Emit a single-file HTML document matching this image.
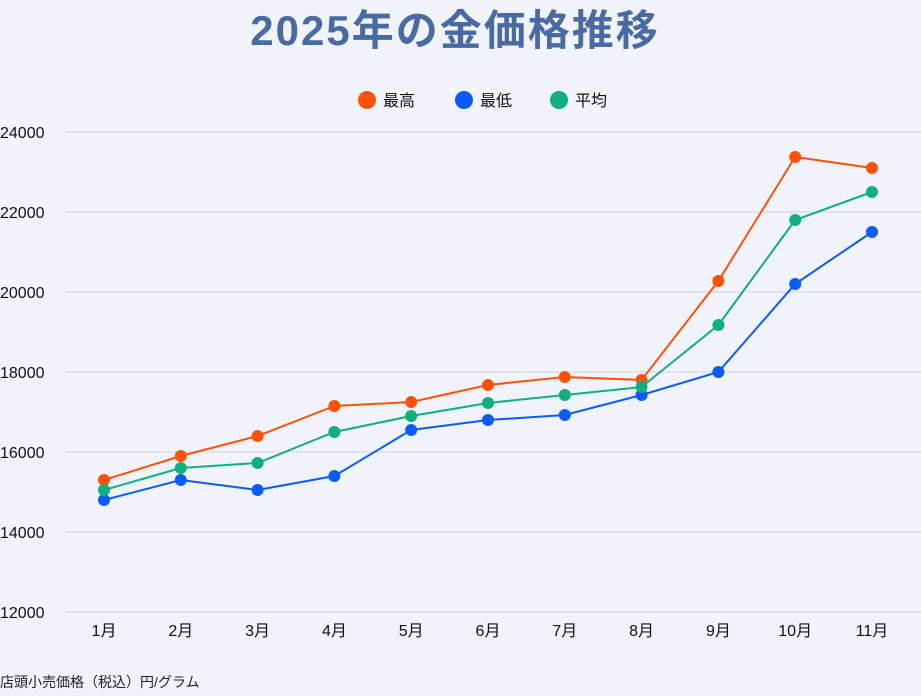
<!DOCTYPE html>
<html><head><meta charset="utf-8">
<style>
html,body{margin:0;padding:0;background:#f0f4fa;}
body{width:921px;height:691px;overflow:hidden;font-family:"Liberation Sans","Noto Sans CJK JP",sans-serif;}
svg text{font-family:"Liberation Sans","Noto Sans CJK JP",sans-serif;}
</style></head>
<body>
<svg id="chart" width="921" height="691">
<text x="455" y="45" text-anchor="middle" font-size="42" font-weight="bold" letter-spacing="2" fill="#4a6aa3">2025年の金価格推移</text>
<g id="legend"></g>
<g id="grid"></g>
<g id="series"></g>
<text x="0" y="687" font-size="14" fill="#222">店頭小売価格（税込）円/グラム</text>
</svg>
<script>
const categories=["1月","2月","3月","4月","5月","6月","7月","8月","9月","10月","11月"];
const maxValues=[15300,15900,16400,17150,17250,17675,17875,17800,20275,23375,23100];
const minValues=[14800,15300,15050,15400,16550,16800,16925,17425,18000,20200,21500];
const avgValues=[15050,15600,15725,16500,16900,17225,17425,17625,19175,21800,22500];
const yTicks=[12000,14000,16000,18000,20000,22000,24000];
const seriesNames=["最高","最低","平均"];
const ns="http://www.w3.org/2000/svg";
const colors=["#ff5208","#0a5cff","#10b07e"];
function x(i){return 104+i*(872-104)/(categories.length-1);}
function y(v){return 612-(v-12000)*(480/12000);}
function mk(tag,attrs,parent){const e=document.createElementNS(ns,tag);for(const k in attrs)e.setAttribute(k,attrs[k]);parent.appendChild(e);return e;}
const grid=document.getElementById('grid');
yTicks.forEach(t=>{
  const l=mk('line',{x1:65,x2:921,y1:y(t),y2:y(t),stroke:'#cfd3d8','stroke-width':1},grid);
  
  
  const tx=mk('text',{x:0,y:y(t)+6,'font-size':16,fill:'#111'},grid);
  tx.textContent=t;
  
  
});
categories.forEach((c,i)=>{
  const tx=mk('text',{x:x(i),y:636,'text-anchor':'middle','font-size':16,fill:'#111'},grid);
  tx.textContent=c;
  
  
});
const ser=document.getElementById('series');
[maxValues,minValues,avgValues].forEach((vals,s)=>{
  const g=mk('g',{},ser);
  
  
  const p=mk('polyline',{points:vals.map((v,i)=>x(i)+','+y(v)).join(' '),fill:'none',stroke:colors[s],'stroke-width':2},g);
  
  
  vals.forEach((v,i)=>{
    const c=mk('circle',{cx:x(i),cy:y(v),r:6,fill:colors[s]},g);
    
    
  });
});
const leg=document.getElementById('legend');
const lx=[367,464,559];
seriesNames.forEach((n,s)=>{
  const g=mk('g',{},leg);
  
  
  mk('circle',{cx:lx[s],cy:100,r:9,fill:colors[s]},g);
  const t=mk('text',{x:lx[s]+16,y:106,'font-size':16,fill:'#111'},g);
  t.textContent=n;
});
</script>
</body></html>
